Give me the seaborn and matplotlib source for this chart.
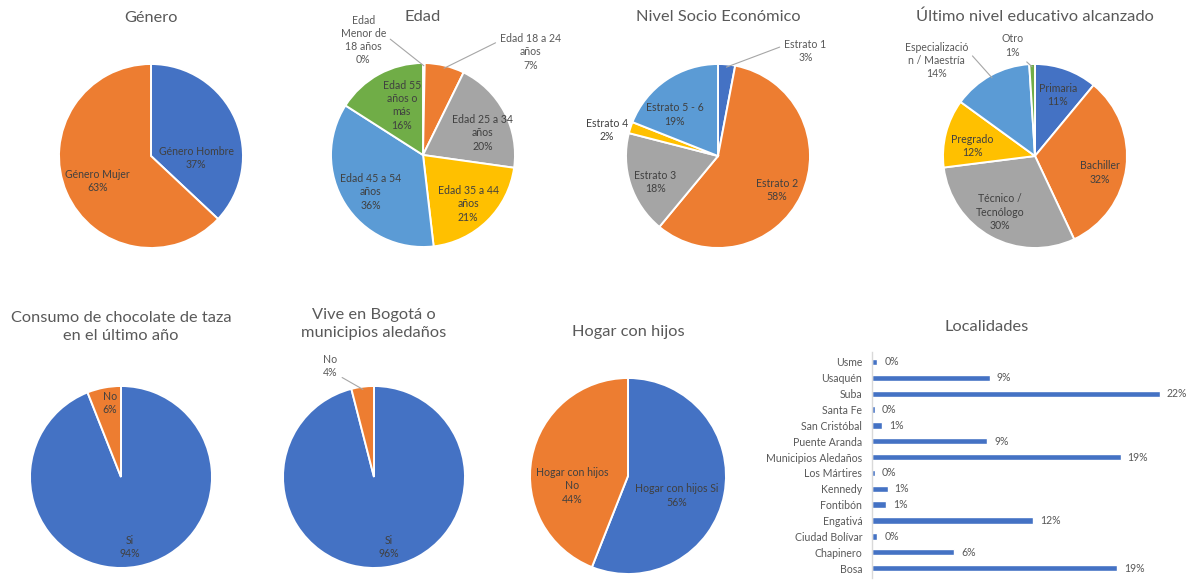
import matplotlib
matplotlib.use("Agg")
import matplotlib.pyplot as plt
import seaborn as sns
import pandas as pd
import numpy as np

# ---- data ----
genero_cats = ["Género Hombre", "Género Mujer"]
genero_vals = [37, 63]

edad_cats = ["Edad\nMenor de\n18 años", "Edad 18 a 24\naños", "Edad 25 a 34\naños",
             "Edad 35 a 44\naños", "Edad 45 a 54\naños", "Edad 55\naños o\nmás"]
edad_vals = [0.3, 7, 20, 21, 36, 16]

nse_cats = ["Estrato 1", "Estrato 2", "Estrato 3", "Estrato 4", "Estrato 5 - 6"]
nse_vals = [3, 58, 18, 2, 19]

edu_cats = ["Primaria", "Bachiller", "Técnico /\nTecnólogo", "Pregrado",
            "Especializació\nn / Maestría", "Otro"]
edu_vals = [11, 32, 30, 12, 14, 1]

consumo_cats = ["Si", "No"]
consumo_vals = [94, 6]

vive_cats = ["Si", "No"]
vive_vals = [96, 4]

hogar_cats = ["Hogar con hijos Si", "Hogar con hijos\nNo"]
hogar_vals = [56, 44]

localidades = ["Usme", "Usaquén", "Suba", "Santa Fe", "San Cristóbal", "Puente Aranda",
               "Municipios Aledaños", "Los Mártires", "Kennedy", "Fontibón", "Engativá",
               "Ciudad Bolívar", "Chapinero", "Bosa"]
localidades_vals = [0.4, 9.0, 22.0, 0.2, 0.8, 8.8, 19.0, 0.2, 1.2, 1.1, 12.3, 0.4, 6.3, 18.7]

# ---- style ----
sns.set_theme(style="white")
plt.rcParams["font.family"] = ["Lato", "DejaVu Sans"]

OFFICE = ["#4472C4", "#ED7D31", "#A5A5A5", "#FFC000", "#5B9BD5", "#70AD47"]
TITLE_C = "#595959"
LABEL_C = "#404040"
TITLE_FS = 11.8
LABEL_FS = 7.6

W, H = 1194, 580
fig = plt.figure(figsize=(W / 100, H / 100), dpi=100)
fig.patch.set_facecolor("white")

PAD = 1.6


def pie_axes(cx, cy, r):
    half = PAD * r
    ax = fig.add_axes([(cx - half) / W, 1 - (cy + half) / H, 2 * half / W, 2 * half / H])
    ax.set_axis_off()
    return ax


def title_at(x, y, text):
    fig.text(x / W, 1 - y / H, text, ha="center", va="center",
             fontsize=TITLE_FS, color=TITLE_C, linespacing=1.3)


def draw_pie(cx, cy, r, cats, vals, label_pos, leaders=None, colors=OFFICE):
    """Pie starting at 12 o'clock, clockwise; leaders maps slice index -> anchor on label box."""
    leaders = leaders or {}
    ax = pie_axes(cx, cy, r)
    wedges, _ = ax.pie(vals, colors=colors[:len(vals)], startangle=90, counterclock=False,
                       radius=1.0, wedgeprops=dict(edgecolor="white", linewidth=1.4))
    ax.set_xlim(-PAD, PAD)
    ax.set_ylim(-PAD, PAD)
    ax.set_aspect("equal")
    total = sum(vals)
    for i, (cat, v, w) in enumerate(zip(cats, vals, wedges)):
        txt = f"{cat}\n{v / total * 100:.0f}%"
        lx, ly = label_pos[i]
        if i in leaders:
            mid = np.deg2rad((w.theta1 + w.theta2) / 2)
            tip = (0.97 * np.cos(mid), 0.97 * np.sin(mid))
            ax.annotate(txt, xy=tip, xytext=(lx, ly), ha="center", va="center",
                        fontsize=LABEL_FS, color=TITLE_C, linespacing=1.25,
                        arrowprops=dict(arrowstyle="-", color="#A6A6A6", lw=0.8,
                                        shrinkA=1, shrinkB=0, relpos=leaders[i]),
                        annotation_clip=False)
        else:
            ax.text(lx, ly, txt, ha="center", va="center", fontsize=LABEL_FS,
                    color=LABEL_C, linespacing=1.25, clip_on=False)
    return ax


# Género
title_at(151, 18, "Género")
draw_pie(151, 156, 92, genero_cats, genero_vals,
         [(0.49, -0.02), (-0.58, -0.27)])

# Edad
title_at(423, 17, "Edad")
draw_pie(423, 155, 92, edad_cats, edad_vals,
         [(-0.65, 1.25), (1.17, 1.12), (0.65, 0.24), (0.49, -0.53), (-0.57, -0.40), (-0.23, 0.54)],
         leaders={0: (0.95, 0.62), 1: (0.02, 0.82)})

# Nivel socio económico
title_at(718, 17, "Nivel Socio Económico")
draw_pie(718, 156, 92, nse_cats, nse_vals,
         [(0.95, 1.14), (0.64, -0.37), (-0.68, -0.28), (-1.21, 0.28), (-0.47, 0.45)],
         leaders={0: (0.02, 0.75)})

# Último nivel educativo
title_at(1035, 17, "Último nivel educativo alcanzado")
draw_pie(1035, 156, 92, edu_cats, edu_vals,
         [(0.25, 0.66), (0.71, -0.18), (-0.38, -0.61), (-0.68, 0.11), (-1.07, 1.04), (-0.24, 1.20)],
         leaders={4: (0.97, 0.8), 5: (0.85, 0.05)})

# Consumo de chocolate
title_at(121, 327, "Consumo de chocolate de taza\nen el último año")
draw_pie(121, 477, 91, consumo_cats, consumo_vals,
         [(0.10, -0.77), (-0.12, 0.81)])

# Vive en Bogotá
title_at(374, 324, "Vive en Bogotá o\nmunicipios aledaños")
draw_pie(374, 477, 91, vive_cats, vive_vals,
         [(0.16, -0.77), (-0.48, 1.22)], leaders={1: (0.8, 0.2)})

# Hogar con hijos
title_at(628, 332, "Hogar con hijos")
draw_pie(628, 476, 98, hogar_cats, hogar_vals,
         [(0.50, -0.20), (-0.57, -0.10)])

# Localidades (horizontal bars)
title_at(987, 327, "Localidades")
unit_px = 288 / 22.0
row_px = 15.85
x0, xmax = 872, 24
n = len(localidades)
ax_top = 362 - 0.6 * row_px
ax_h = (n - 1 + 1.2) * row_px
axb = fig.add_axes([x0 / W, 1 - (ax_top + ax_h) / H, xmax * unit_px / W, ax_h / H])
df = pd.DataFrame({"localidad": localidades, "valor": localidades_vals})
sns.barplot(data=df, x="valor", y="localidad", color=OFFICE[0], saturation=1,
            width=0.4, orient="h", ax=axb)
axb.set_xlim(0, xmax)
axb.set_ylim(n - 1 + 0.6, -0.6)
axb.set_xlabel("")
axb.set_ylabel("")
axb.set_xticks([])
for s in ["top", "right", "bottom"]:
    axb.spines[s].set_visible(False)
axb.spines["left"].set_color("#D9D9D9")
axb.spines["left"].set_linewidth(1.0)
axb.tick_params(axis="y", length=0, pad=7, labelsize=7.6, labelcolor=TITLE_C)
axb.set_facecolor("none")
for cont in axb.containers:
    axb.bar_label(cont, labels=[f"{v:.0f}%" for v in localidades_vals], padding=5,
                  fontsize=7.6, color=TITLE_C)

fig.savefig("out.png", dpi=100, facecolor="white")
